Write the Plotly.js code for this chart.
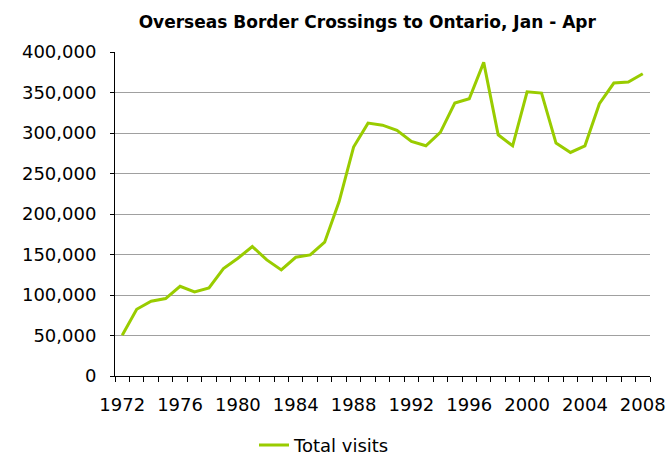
<!DOCTYPE html>
<html>
<head>
<meta charset="utf-8">
<script src="https://cdn.plot.ly/plotly-3.0.1.min.js"></script>
<style>html,body{margin:0;padding:0;background:#fff;}#chart{width:669px;height:457px;}</style>
</head>
<body>
<div id="chart"></div>
<script>
const years = [1972,1973,1974,1975,1976,1977,1978,1979,1980,1981,1982,1983,1984,1985,1986,1987,1988,1989,1990,
  1991,1992,1993,1994,1995,1996,1997,1998,1999,2000,2001,2002,2003,2004,2005,2006,2007,2008];
const totalVisits = [50200,82400,92300,95600,110800,103800,108700,132600,145400,159800,143300,131000,146600,149500,165200,215400,282600,312200,309700,
  303200,289600,284200,300700,337000,342300,387200,297800,284200,350900,349300,287500,276000,284200,336100,361700,362900,373200];
const xTickVals = [1972,1976,1980,1984,1988,1992,1996,2000,2004,2008];
const yTickVals = [0,50000,100000,150000,200000,250000,300000,350000,400000];
const seriesName = 'Total visits';
const chartTitle = 'Overseas Border Crossings to Ontario, Jan - Apr';

const font = 'DejaVu Sans, Verdana, sans-serif';
Plotly.newPlot('chart', [{
  x: years, y: totalVisits, type: 'scatter', mode: 'lines', name: seriesName,
  line: {color: '#99cc00', width: 3}
}], {
  width: 669, height: 457,
  margin: {l: 115, r: 19, t: 52, b: 81, autoexpand: false},
  paper_bgcolor: '#fff', plot_bgcolor: '#fff',
  font: {family: font, size: 18, color: '#000'},
  title: {text: chartTitle, font: {family: font, size: 17, weight: 'bold', color: '#000'}, x: 0.549, xanchor: 'center', y: 0.951, yanchor: 'middle'},
  xaxis: {
    range: [1971.5, 2008.5], tickmode: 'array', tickvals: xTickVals, ticks: '', showgrid: false,
    showline: true, linecolor: '#000', linewidth: 1, zeroline: false, ticklabelstandoff: 12, automargin: false,
    minor: {tickmode: 'linear', tick0: 1971.5, dtick: 1, ticks: 'outside', ticklen: 5, tickcolor: '#000', tickwidth: 1, showgrid: false}
  },
  yaxis: {
    range: [0, 400000], tickmode: 'array', tickvals: yTickVals, tickformat: ',', ticks: 'outside', ticklen: 4, tickcolor: '#000',
    showgrid: true, gridcolor: '#a0a0a0', gridwidth: 1, showline: true, linecolor: '#000', linewidth: 1, zeroline: false,
    ticklabelstandoff: 10, automargin: false
  },
  showlegend: true,
  legend: {orientation: 'h', x: 254/669, xanchor: 'left', xref: 'container', y: -0.214, yanchor: 'middle', font: {family: font, size: 18}}
}, {displayModeBar: false});
</script>
</body>
</html>
